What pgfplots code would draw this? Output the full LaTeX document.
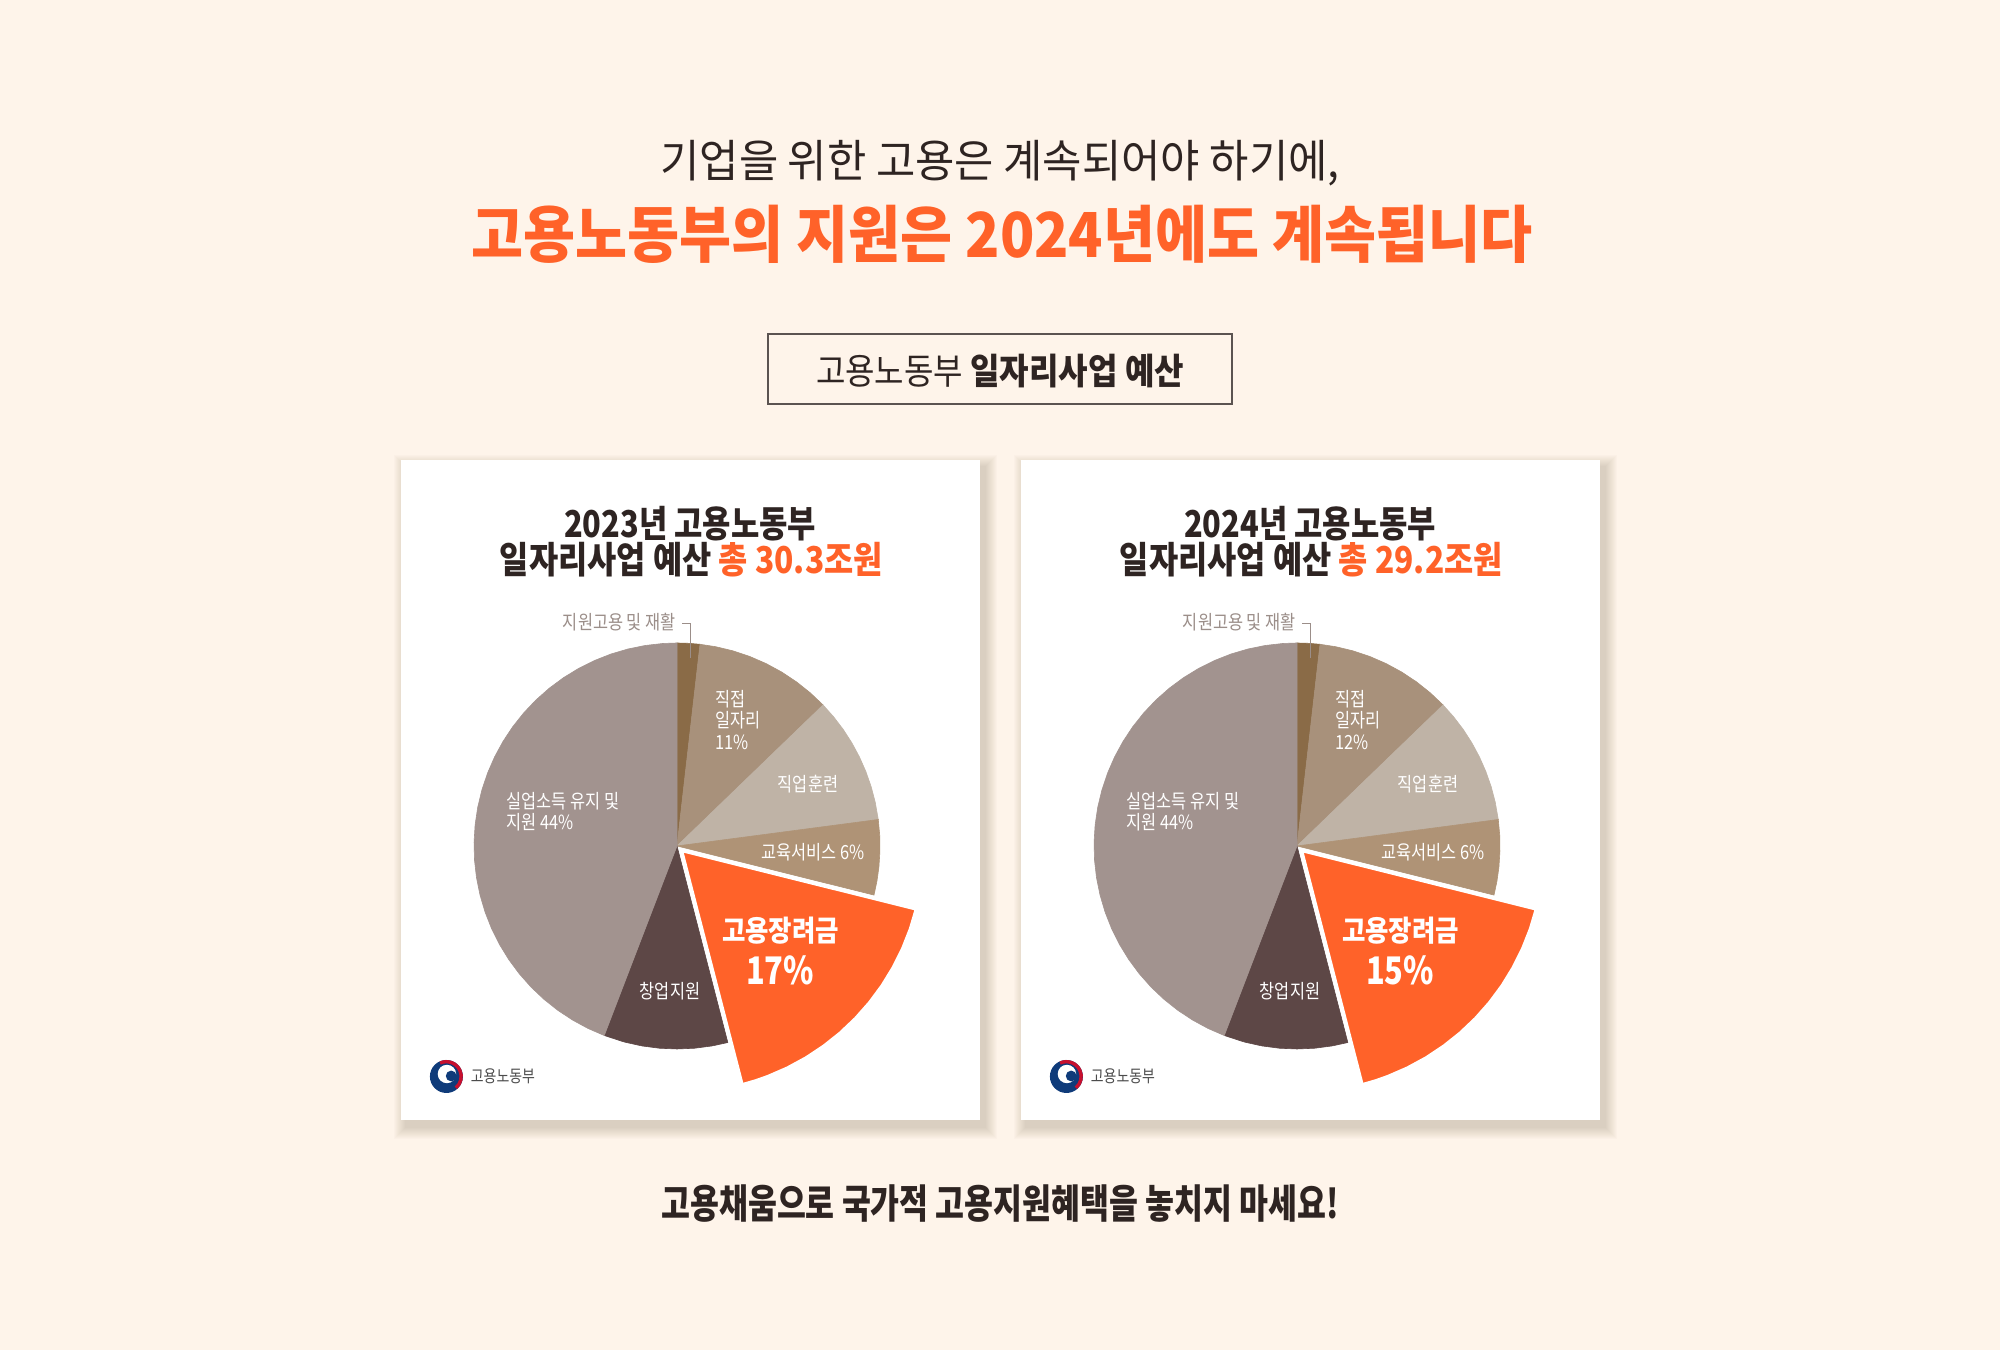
\documentclass[border=0pt]{standalone}
\usepackage{graphicx}
\usepackage{pgfplots}
\pgfplotsset{compat=1.18}
\usepackage{fontspec}
\setmainfont{Noto Sans CJK KR}

\definecolor{bg}{HTML}{FEF4EA}
\definecolor{ink}{HTML}{2E2422}
\definecolor{orng}{HTML}{FF6229}
\definecolor{lblgrey}{HTML}{9B8E89}
\definecolor{boxline}{HTML}{5B5351}
\definecolor{sjw}{HTML}{8A6B47}   % 지원고용 및 재활
\definecolor{sjj}{HTML}{A8917B}   % 직접일자리
\definecolor{sjh}{HTML}{BFB3A6}   % 직업훈련
\definecolor{sgs}{HTML}{AF9376}   % 교육서비스
\definecolor{scj}{HTML}{5D4746}   % 창업지원
\definecolor{ssu}{HTML}{A2938F}   % 실업소득 유지 및 지원
\definecolor{govblue}{HTML}{0F3B7A}
\definecolor{govred}{HTML}{C8102E}

\newcommand{\fitw}[2]{\resizebox{#1}{\height}{#2}}
\newcommand{\sm}[1]{\scalebox{0.84}[1]{\fontsize{19.5bp}{21bp}\selectfont #1}}

% slice boundaries (polar angle, radius in px); the picture draws the same pie in both cards
% shares: 1.8 / 11.0 / 10.1 / 6.0 / 17.1 / 9.9 / 44.1
\newcommand{\pieslices}{%
\addplot[fill=sjw, draw=sjw, line width=0.6bp] coordinates {(0,0) (90,203) (86.75,203) (83.5,203)} -- cycle;
\addplot[fill=sjj, draw=sjj, line width=0.6bp] coordinates {(0,0) (83.5,203) (79,203) (74,203) (69,203) (64,203) (59,203) (54,203) (49,203) (44,203)} -- cycle;
\addplot[fill=sjh, draw=sjh, line width=0.6bp] coordinates {(0,0) (44,203) (39.5,203) (35,203) (30.5,203) (26,203) (21.5,203) (17,203) (12.5,203) (7.5,203)} -- cycle;
\addplot[fill=sgs, draw=sgs, line width=0.6bp] coordinates {(0,0) (7.5,203) (3,203) (-1.5,203) (-6,203) (-10,203) (-14,203)} -- cycle;
\addplot[fill=scj, draw=scj, line width=0.6bp] coordinates {(0,0) (-75.5,203) (-80,203) (-85,203) (-90,203) (-95,203) (-100,203) (-105,203) (-111,203)} -- cycle;
\addplot[fill=ssu, draw=ssu, line width=0.6bp] coordinates {(0,0) (-111,203) (-116,203) (-121,203) (-126,203) (-131,203) (-136,203) (-141,203) (-146,203) (-151,203) (-156,203) (-161,203) (-166,203) (-171,203) (-176,203) (-181,203) (-186,203) (-191,203) (-196,203) (-201,203) (-206,203) (-211,203) (-216,203) (-221,203) (-226,203) (-231,203) (-236,203) (-241,203) (-246,203) (-251,203) (-256,203) (-261,203) (-266,203) (-270,203)} -- cycle;
\addplot[fill=orng, draw=white, line width=4bp, line join=round, xshift=4bp, yshift=-4bp] coordinates {(0,0) (-14,243) (-19,243) (-24,243) (-29,243) (-34,243) (-39,243) (-44,243) (-49,243) (-54,243) (-59,243) (-64,243) (-69,243) (-72,243) (-75.5,243)} -- cycle;
}

\newcommand{\card}[1]{% #1 = x offset
  \foreach \i in {1,...,12} {
    \fill[black!60!brown, opacity=0.016] (400.5+#1+5-\i, 230.1-7-\i) rectangle (979.6+#1+5+\i, 889.5-7+\i);
  }
  \fill[white] (400.5+#1, 230.1) rectangle (979.6+#1, 889.5);
}

\newcommand{\logo}[1]{%
  \begin{scope}[shift={(446.4+#1,273.5)}]
    \fill[govblue] (0,0) circle (16.5);
    \draw[govred, line width=3.4bp] (115:14.8) arc (115:-50:14.8);
    \fill[white] (0.5,2.5) circle (9.2);
    \fill[govblue] (4.8,0.5) circle (5.4);
  \end{scope}
  \node[anchor=west, inner sep=0, text=black!70] at (470.7+#1,273.5) {\scalebox{0.82}[1]{\fontsize{17bp}{19bp}\selectfont 고용노동부}};
}

\begin{document}
\begin{tikzpicture}[x=1bp, y=1bp]
\fill[bg] (0,0) rectangle (2000,1350);

% headline
\node[inner sep=0, text=ink] at (1000,1187) {\fitw{679bp}{\fontsize{45bp}{50bp}\selectfont 기업을 위한 고용은 계속되어야 하기에,}};
\node[inner sep=0, text=orng] at (1002,1116) {\fitw{1061bp}{\fontsize{62bp}{66bp}\selectfont\bfseries 고용노동부의 지원은 2024년에도 계속됩니다}};

% framed caption
\draw[boxline, line width=2.5bp] (768,946) rectangle (1232,1016);
\node[inner sep=0, text=ink] at (1000,979) {\fitw{368bp}{\fontsize{36bp}{40bp}\selectfont 고용노동부 \bfseries 일자리사업 예산}};

% cards
\card{0}
\card{620}

% pies
\begin{axis}[at={(0,0)}, anchor=south west, x=1bp, y=1bp,
  xmin=-677, xmax=1323, ymin=-504, ymax=846,
  hide axis, clip=false, data cs=polar]
\pieslices
\end{axis}
\begin{axis}[at={(0,0)}, anchor=south west, x=1bp, y=1bp,
  xmin=-1297, xmax=703, ymin=-504, ymax=846,
  hide axis, clip=false, data cs=polar]
\pieslices
\end{axis}

% card texts
\foreach \dx/\yr/\tot/\dj/\gj in {0/2023/30.3/11/17, 620/2024/29.2/12/15} {
  \node[inner sep=0, text=ink] at (690+\dx,826.5) {\fitw{252bp}{\fontsize{37bp}{40bp}\selectfont\bfseries \yr 년 고용노동부}};
  \node[inner sep=0, text=ink] at (691.3+\dx,790.3) {\fitw{383bp}{\fontsize{37bp}{40bp}\selectfont\bfseries 일자리사업 예산 \textcolor{orng}{총 \tot 조원}}};
  \node[anchor=east, inner sep=0, text=lblgrey] at (676+\dx,727.5) {\sm{지원고용 및 재활}};
  \draw[lblgrey, line width=1bp] (682+\dx,726.3) -- (690+\dx,726.3) -- (690+\dx,692);
  \node[anchor=west, inner sep=0, text=white] at (715.6+\dx,651) {\sm{직접}};
  \node[anchor=west, inner sep=0, text=white] at (715.6+\dx,629.3) {\sm{일자리}};
  \node[anchor=west, inner sep=0, text=white] at (715.6+\dx,607.7) {\sm{\dj\%}};
  \node[inner sep=0, text=white] at (808+\dx,565.6) {\sm{직업훈련}};
  \node[anchor=west, inner sep=0, text=white] at (506.4+\dx,549) {\sm{실업소득 유지 및}};
  \node[anchor=west, inner sep=0, text=white] at (506.4+\dx,527.3) {\sm{지원 44\%}};
  \node[inner sep=0, text=white] at (813+\dx,498) {\sm{교육서비스 6\%}};
  \node[inner sep=0, text=white] at (780.6+\dx,419) {\fitw{117bp}{\fontsize{29bp}{32bp}\selectfont\bfseries 고용장려금}};
  \node[inner sep=0, text=white] at (780+\dx,379.4) {\fitw{68bp}{\fontsize{38bp}{40bp}\selectfont\bfseries \gj\%}};
  \node[inner sep=0, text=white] at (670+\dx,359) {\sm{창업지원}};
  \logo{\dx}
}

% footer
\node[inner sep=0, text=ink] at (1000,146) {\fitw{677bp}{\fontsize{40bp}{44bp}\selectfont\bfseries 고용채움으로 국가적 고용지원혜택을 놓치지 마세요!}};
\end{tikzpicture}
\end{document}
